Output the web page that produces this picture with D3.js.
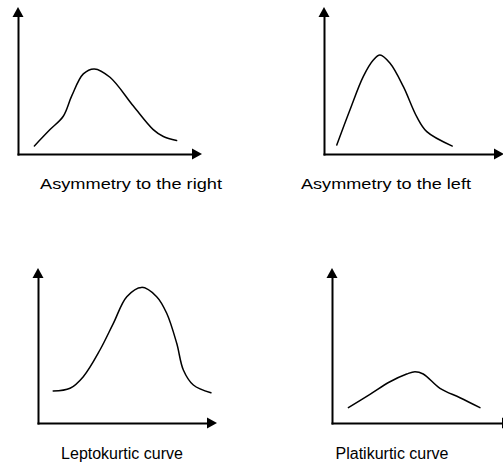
<!DOCTYPE html>
<html>
<head>
<meta charset="utf-8">
<script src="https://cdn.jsdelivr.net/npm/d3@7"></script>
<style>
  html, body { margin: 0; padding: 0; background: #fff; }
  svg { display: block; }
  text { font-family: "Liberation Sans", Arial, sans-serif; fill: #000; }
</style>
</head>
<body>
<script>
// ---- Data (curve shapes in 0..10 unit space of each panel) ----
const panelTitles = ["Asymmetry to the right", "Asymmetry to the left", "Leptokurtic curve", "Platikurtic curve"];

const rightSkewX = [0.89, 1.74, 2.46, 2.92, 3.55, 4.15, 5.00, 6.27, 7.35, 7.90, 8.62];
const rightSkewY = [0.55, 1.66, 2.57, 3.95, 5.45, 5.79, 5.22, 3.26, 1.66, 1.19, 0.92];

const leftSkewX = [0.71, 1.44, 2.18, 2.74, 3.11, 3.67, 4.41, 5.15, 5.71, 7.13];
const leftSkewY = [0.61, 2.99, 5.26, 6.39, 6.73, 6.17, 4.58, 2.54, 1.52, 0.54];

const leptoX = [0.85, 1.79, 2.53, 3.46, 4.21, 4.96, 5.79, 6.63, 7.19, 7.75, 8.12, 8.68, 9.66];
const leptoY = [2.06, 2.24, 2.99, 4.71, 6.43, 8.15, 8.75, 8.15, 7.08, 5.14, 3.42, 2.45, 1.95];

const platyX = [0.91, 2.11, 3.22, 4.15, 4.61, 5.07, 6.00, 7.11, 8.22];
const platyY = [0.99, 1.85, 2.66, 3.16, 3.31, 3.16, 2.24, 1.63, 0.99];

const seriesX = [rightSkewX, leftSkewX, leptoX, platyX];
const seriesY = [rightSkewY, leftSkewY, leptoY, platyY];

// ---- Layout (pixels) ----
const W = 503, H = 466;
const panels = [
  { ox: 18,  oy: 154, xt: 202, yt: 7,   lx: 131, ly: 189, len: 182, fs: 15 },
  { ox: 324, oy: 154, xt: 504, yt: 7,   lx: 386, ly: 189, len: 170, fs: 15 },
  { ox: 38,  oy: 423, xt: 217, yt: 268, lx: 122, ly: 459, len: null, fs: 16 },
  { ox: 332, oy: 423, xt: 512, yt: 268, lx: 392, ly: 459, len: null, fs: 16 }
];
const AL = 10;  // arrow length
const AW = 5.5; // arrow half width

const svg = d3.select("body").append("svg")
  .attr("width", W).attr("height", H);

panels.forEach((p, i) => {
  const x = d3.scaleLinear().domain([0, 10]).range([p.ox, p.xt]);
  const y = d3.scaleLinear().domain([0, 10]).range([p.oy, p.yt]);
  const g = svg.append("g");

  // axes (domain lines only), ending at arrow base
  const xa = x.copy().range([p.ox - 1, p.xt - AL + 1]);
  const ya = y.copy().range([p.oy + 1, p.yt + AL - 1]);
  g.append("g")
    .attr("transform", `translate(0,${p.oy})`)
    .call(d3.axisBottom(xa).tickValues([]).tickSizeOuter(0))
    .call(s => s.select(".domain").attr("stroke", "#000").attr("stroke-width", 2));
  g.append("g")
    .attr("transform", `translate(${p.ox},0)`)
    .call(d3.axisLeft(ya).tickValues([]).tickSizeOuter(0))
    .call(s => s.select(".domain").attr("stroke", "#000").attr("stroke-width", 2));

  // arrowheads
  const xt = x(10), yt = y(10);
  g.append("path")
    .attr("d", `M${xt},${p.oy} L${xt - AL},${p.oy - AW} L${xt - AL},${p.oy + AW} Z`)
    .attr("fill", "#000");
  g.append("path")
    .attr("d", `M${p.ox},${yt} L${p.ox - AW},${yt + AL} L${p.ox + AW},${yt + AL} Z`)
    .attr("fill", "#000");

  // curve
  const pts = seriesX[i].map((v, k) => [v, seriesY[i][k]]);
  const line = d3.line()
    .x(d => x(d[0])).y(d => y(d[1]))
    .curve(d3.curveCatmullRom.alpha(0.5));
  g.append("path")
    .datum(pts)
    .attr("d", line)
    .attr("fill", "none")
    .attr("stroke", "#000")
    .attr("stroke-width", 1.5)
    .attr("stroke-linecap", "round");

  // label
  const t = g.append("text")
    .attr("x", p.lx).attr("y", p.ly)
    .attr("text-anchor", "middle")
    .attr("font-size", p.fs)
    .text(panelTitles[i]);
  if (p.len) {
    t.attr("textLength", p.len).attr("lengthAdjust", "spacingAndGlyphs");
  }
});
</script>
</body>
</html>
